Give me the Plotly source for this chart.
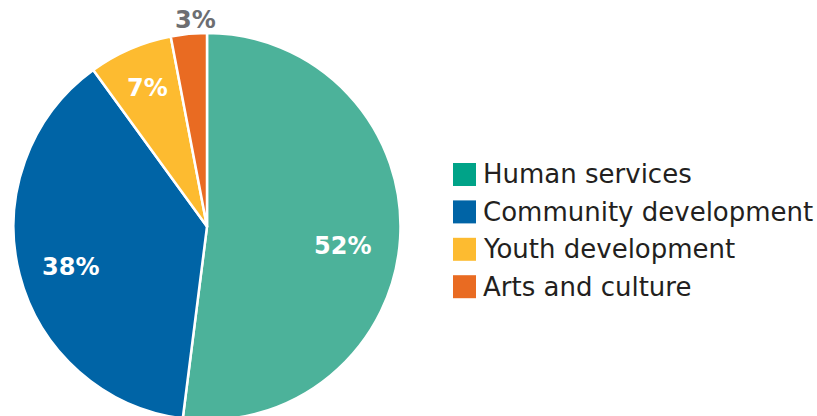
import math
import plotly.graph_objects as go

# Share of grants by program area
categories = ["Human services", "Community development", "Youth development", "Arts and culture"]
shares = [52, 38, 7, 3]
pct_labels = ["52%", "38%", "7%", "3%"]

slice_colors = ["#4cb29a", "#0064a6", "#fdbb30", "#e96b22"]
swatch_colors = ["#00a388", "#0064a6", "#fdbb30", "#e96b22"]

W, H = 817, 421
# pie placement in pixels (the page is clipped at 416 px, so the pie runs off the bottom)
cx, cy, r = 207, 226.5, 193.5

fig = go.Figure(go.Pie(
    labels=categories,
    values=shares,
    sort=False,
    direction="clockwise",
    rotation=0,
    marker=dict(colors=slice_colors, line=dict(color="white", width=2.5)),
    textinfo="none",
    hoverinfo="label+percent",
    showlegend=False,
    domain=dict(x=[(cx - r) / W, (cx + r) / W], y=[1 - (cy + r) / H, 1 - (cy - r) / H]),
))

# percentage labels placed along each slice's mid angle
label_radius = [0.70, 0.73, 0.78, 1.07]
label_color = ["white", "white", "white", "#6d6e71"]
label_nudge = [(0, 11), (0, 5), (0, 0), (8, 0)]
total = sum(shares)
cum = 0
for i, v in enumerate(shares):
    mid = (cum + v / 2) / total * 2 * math.pi
    cum += v
    px = cx + label_radius[i] * r * math.sin(mid) + label_nudge[i][0]
    py = cy - label_radius[i] * r * math.cos(mid) + label_nudge[i][1]
    fig.add_annotation(
        x=px / W, y=1 - py / H, xref="paper", yref="paper",
        text=pct_labels[i], showarrow=False,
        xanchor="center", yanchor="middle",
        font=dict(family="DejaVu Sans", size=24, color=label_color[i], weight="bold"),
    )

# legend drawn as swatches plus text
leg_x, leg_top, sw, step = 453, 163, 23, 37.4
for i, name in enumerate(categories):
    top = leg_top + i * step
    fig.add_shape(
        type="rect", xref="paper", yref="paper",
        x0=leg_x / W, x1=(leg_x + sw) / W,
        y0=1 - (top + sw) / H, y1=1 - top / H,
        fillcolor=swatch_colors[i], line=dict(width=0),
    )
    fig.add_annotation(
        x=(leg_x + sw + 5) / W, y=1 - (top + sw / 2) / H,
        xref="paper", yref="paper", text=name, showarrow=False,
        xanchor="left", yanchor="middle",
        font=dict(family="DejaVu Sans", size=26, color="#231f20"),
    )

fig.update_layout(
    width=W, height=H,
    margin=dict(l=0, r=0, t=0, b=0),
    paper_bgcolor="white", plot_bgcolor="white",
)

fig.write_html(
    "out.html",
    post_script="document.documentElement.style.overflow='hidden';"
                "document.body.style.overflow='hidden';",
)
